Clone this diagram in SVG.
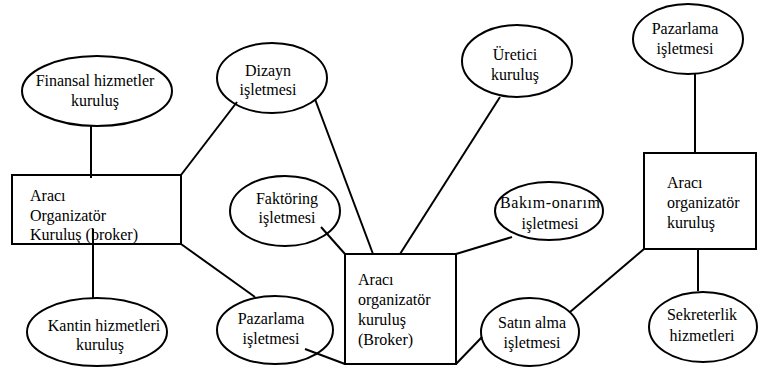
<svg xmlns="http://www.w3.org/2000/svg" width="758" height="368" viewBox="0 0 758 368">
  <style>
    .shape { fill: #ffffff; stroke: #000000; stroke-width: 2; }
    .link { stroke: #000000; stroke-width: 2; fill: none; }
    text { font-family: "Liberation Serif", "Times New Roman", serif; font-size: 16px; fill: #000000; }
    .c { text-anchor: middle; }
  </style>
  <rect width="758" height="368" fill="#ffffff"/>

  <!-- left broker and its partners -->
  <g id="finansal">
    <ellipse class="shape" cx="97" cy="91" rx="75" ry="35"/>
    <text class="c" x="95" y="86">Finansal hizmetler</text>
    <text class="c" x="95" y="106">kuruluş</text>
  </g>
  <g id="broker-left">
    <rect class="shape" x="12" y="175" width="169" height="69"/>
    <text x="30" y="201">Aracı</text>
    <text x="30" y="221">Organizatör</text>
    <text x="30" y="240">Kuruluş (broker)</text>
  </g>
  <g id="kantin">
    <ellipse class="shape" cx="97" cy="332" rx="70" ry="34"/>
    <text class="c" x="104" y="331">Kantin hizmetleri</text>
    <text class="c" x="100" y="350">kuruluş</text>
  </g>
  <g id="dizayn">
    <ellipse class="shape" cx="272" cy="78" rx="55" ry="35"/>
    <text class="c" x="268" y="76">Dizayn</text>
    <text class="c" x="268" y="95">işletmesi</text>
  </g>
  <g id="pazarlama-alt">
    <ellipse class="shape" cx="275" cy="330" rx="58" ry="34"/>
    <text class="c" x="271" y="324">Pazarlama</text>
    <text class="c" x="271" y="344">işletmesi</text>
  </g>

  <!-- central broker and its partners -->
  <g id="faktoring">
    <ellipse class="shape" cx="285" cy="211" rx="55" ry="35"/>
    <text class="c" x="287" y="204">Faktöring</text>
    <text class="c" x="287" y="223">işletmesi</text>
  </g>
  <g id="uretici">
    <ellipse class="shape" cx="517" cy="61" rx="55" ry="36"/>
    <text class="c" x="515" y="60">Üretici</text>
    <text class="c" x="515" y="80">kuruluş</text>
  </g>
  <g id="bakim">
    <ellipse class="shape" cx="549" cy="211" rx="54" ry="29"/>
    <text class="c" x="550" y="208" textLength="100" lengthAdjust="spacing">Bakım-onarım</text>
    <text class="c" x="550" y="229">işletmesi</text>
  </g>
  <g id="broker-center">
    <rect class="shape" x="345" y="254" width="111" height="110"/>
    <text x="358" y="285">Aracı</text>
    <text x="358" y="305">organizatör</text>
    <text x="358" y="325">kuruluş</text>
    <text x="358" y="345">(Broker)</text>
  </g>
  <g id="satin-alma">
    <ellipse class="shape" cx="530" cy="332" rx="49" ry="34"/>
    <text class="c" x="532" y="328">Satın alma</text>
    <text class="c" x="532" y="348">işletmesi</text>
  </g>

  <!-- right broker and its partners -->
  <g id="pazarlama-ust">
    <ellipse class="shape" cx="688" cy="39" rx="55" ry="35"/>
    <text class="c" x="685" y="34">Pazarlama</text>
    <text class="c" x="685" y="54">işletmesi</text>
  </g>
  <g id="broker-right">
    <rect class="shape" x="644" y="153" width="112" height="96"/>
    <text x="667" y="188">Aracı</text>
    <text x="667" y="208">organizatör</text>
    <text x="667" y="228">kuruluş</text>
  </g>
  <g id="sekreterlik">
    <ellipse class="shape" cx="703" cy="327" rx="54" ry="35"/>
    <text class="c" x="702" y="320">Sekreterlik</text>
    <text class="c" x="702" y="341">hizmetleri</text>
  </g>

  <!-- connectors -->
  <g id="connectors">
    <line class="link" x1="91" y1="126" x2="91" y2="178"/>
    <line class="link" x1="93" y1="229" x2="93" y2="298"/>
    <line class="link" x1="181" y1="175" x2="237" y2="102"/>
    <line class="link" x1="181" y1="244" x2="255" y2="297"/>
    <line class="link" x1="315" y1="99" x2="373" y2="254"/>
    <line class="link" x1="500" y1="97" x2="400" y2="254"/>
    <line class="link" x1="321" y1="227" x2="345" y2="254"/>
    <line class="link" x1="512" y1="237" x2="456" y2="254"/>
    <line class="link" x1="305" y1="349" x2="345" y2="364"/>
    <line class="link" x1="456" y1="364" x2="482" y2="337"/>
    <line class="link" x1="695" y1="74" x2="695" y2="153"/>
    <line class="link" x1="698" y1="249" x2="698" y2="291"/>
    <line class="link" x1="644" y1="249" x2="570" y2="312"/>
  </g>
</svg>
